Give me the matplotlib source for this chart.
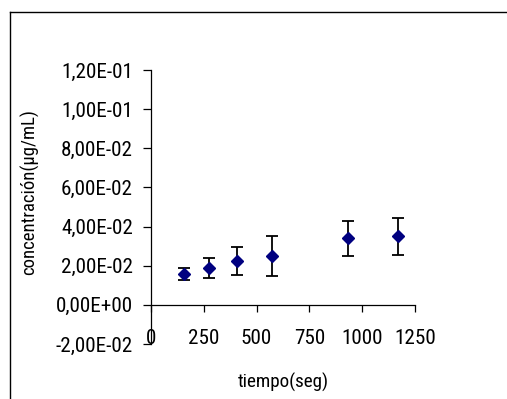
import matplotlib
matplotlib.use("Agg")
import matplotlib.pyplot as plt
from matplotlib.lines import Line2D
from matplotlib.ticker import FuncFormatter

plt.rcParams['font.family'] = ['Roboto Condensed', 'Liberation Sans', 'DejaVu Sans']

tiempo = [155, 275, 407, 574, 931, 1171]
concentracion = [0.0158, 0.0190, 0.0226, 0.0250, 0.0340, 0.0350]
error = [0.0032, 0.0051, 0.0072, 0.0102, 0.0089, 0.0093]
x_ticks = [0, 250, 500, 750, 1000, 1250]
y_ticks = [-0.02, 0.0, 0.02, 0.04, 0.06, 0.08, 0.10, 0.12]

W, H = 507, 399
fig = plt.figure(figsize=(W / 100, H / 100), dpi=100)
ax = fig.add_axes([151 / W, 1 - 344 / H, 264 / W, 274 / H])

ax.errorbar(tiempo, concentracion, yerr=error, fmt='D', color='#000080',
            markersize=6.2, ecolor='black', elinewidth=1.3, capsize=4.3,
            capthick=1.3, zorder=3)

ax.set_xlim(0, 1250)
ax.set_ylim(-0.02, 0.12)
ax.set_xticks(x_ticks)
ax.set_yticks(y_ticks)

def yfmt(v, pos):
    s = f"{v:.2E}".replace('.', ',')
    if s.startswith('-0,00'):
        s = s[1:]
    return s

ax.yaxis.set_major_formatter(FuncFormatter(yfmt))

for s in ['top', 'right']:
    ax.spines[s].set_visible(False)
ax.spines['bottom'].set_position(('data', 0))
ax.spines['left'].set_linewidth(0.9)
ax.spines['bottom'].set_linewidth(0.9)

ax.tick_params(axis='y', direction='out', length=5.5, width=0.9, pad=7.5,
               labelsize=15.2)
ax.tick_params(axis='x', direction='out', length=5, width=0.9, pad=12.5,
               labelsize=15.2)

ax.set_xlabel('tiempo(seg)', fontsize=13.8)
ax.xaxis.set_label_coords((283 - 151) / 264, (344 - 382) / 274)
ax.xaxis.label.set(va='center', ha='center')
ax.set_ylabel('concentración(µg/mL)', fontsize=13.5)
ax.yaxis.set_label_coords((30 - 151) / 264, (344 - 192) / 274)
ax.yaxis.label.set(va='center', ha='center')

# chart area border (left and top edges visible)
fig.add_artist(Line2D([10 / W, 10 / W], [0, 1 - 12 / H], transform=fig.transFigure,
                      color='black', linewidth=1))
fig.add_artist(Line2D([10 / W, 1], [1 - 12 / H, 1 - 12 / H], transform=fig.transFigure,
                      color='black', linewidth=1))

fig.savefig('out.png', dpi=100)
